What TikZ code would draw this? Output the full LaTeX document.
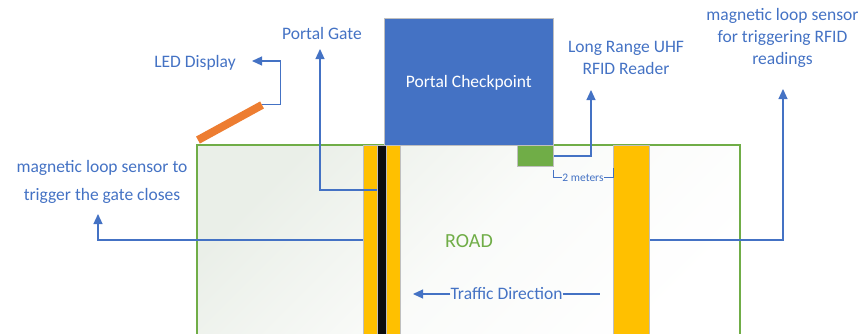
\documentclass[tikz,border=0pt]{standalone}
\usepackage{fontspec}
\setmainfont{Carlito}
\usetikzlibrary{arrows.meta,calc}

\definecolor{accent}{HTML}{4472C4}
\definecolor{roadgreen}{HTML}{70AD47}
\definecolor{roadtint}{HTML}{EAEFE8}
\definecolor{gateyellow}{HTML}{FFC000}
\definecolor{ledorange}{HTML}{ED7D31}
\definecolor{edgegrey}{HTML}{BFBFBF}
\definecolor{armblack}{HTML}{0D0D0D}

\begin{document}
\begin{tikzpicture}[x=1pt,y=-1pt,
  conn/.style={draw=accent, line width=1.2pt},
  arr/.style={conn, -{Triangle[length=10pt,width=9pt]}},
  thinconn/.style={draw=accent, line width=0.9pt},
  lbl/.style={text=accent, font=\fontsize{17.5}{22}\selectfont, align=center, inner sep=0pt},
  stripbox/.style={fill=gateyellow, draw=edgegrey, line width=0.8pt, inner sep=0pt, anchor=north west},
  armbox/.style={fill=armblack, draw=edgegrey, line width=0.8pt, inner sep=0pt, anchor=north west}]

\useasboundingbox (0,0) rectangle (865,333);
\clip (0,0) rectangle (865,333);

% road surface
\shade[draw=roadgreen, line width=1.1pt, top color=roadtint, bottom color=white,
       middle color=roadtint!25!white, shading angle=45]
  (197,145) rectangle (740,350);
\node[text=roadgreen, font=\fontsize{20}{24}\selectfont, inner sep=0pt] (road) at (469,241) {ROAD};

% gate loop strip with the barrier arm, and the reader loop strip
\node[stripbox, minimum width=37pt, minimum height=200pt] (gateloop) at (363,145) {};
\node[armbox, minimum width=9pt, minimum height=200pt] (arm) at (377,145) {};
\node[stripbox, minimum width=36pt, minimum height=200pt] (readloop) at (613,145) {};

% checkpoint building and the reader
\node[fill=accent, draw=edgegrey, line width=0.8pt, anchor=north west, inner sep=0pt,
      minimum width=169pt, minimum height=127pt, text=white,
      font=\fontsize{17.5}{22}\selectfont, text height=12pt, text depth=0pt] (checkpoint) at (384,18) {Portal Checkpoint};
\node[fill=roadgreen, draw=edgegrey, line width=0.8pt, anchor=north west, inner sep=0pt,
      minimum width=36pt, minimum height=21pt] (reader) at (517,145) {};

% LED display
\node[fill=ledorange, inner sep=0pt, minimum width=73pt, minimum height=8pt, rotate=28.7] (led) at (230,122.5) {};

% labels
\node[lbl, anchor=base] (ledtxt) at (195,67) {LED Display};
\node[lbl, anchor=base] (gatetxt) at (322,39) {Portal Gate};
\node[lbl, anchor=north] (readertxt) at (626,41) {Long Range UHF\\RFID Reader};
\node[lbl, anchor=north] (righttxt) at (782.5,8) {magnetic loop sensor\\for triggering RFID\\readings};
\node[lbl, anchor=north, font=\fontsize{17.5}{28}\selectfont] (lefttxt) at (102,160) {magnetic loop sensor to\\trigger the gate closes};
\node[lbl, anchor=base] (traffic) at (506.5,299) {Traffic Direction};
\node[text=accent, font=\fontsize{11.5}{13}\selectfont, inner sep=0pt, anchor=base] (dist) at (583,181) {2 meters};

% arrow end points
\coordinate (ledtip) at (252,61);
\coordinate (gatetip) at (320,49);
\coordinate (readertip) at (591,90);
\coordinate (lefttip) at (98,214);
\coordinate (righttip) at (783,89);
\coordinate (traftip) at (413,294);
\coordinate (trafstart) at (600,294);

% connectors
\draw[arr] (led.east) -- ++(18,0) |- (ledtip);
\draw[arr] ($(arm.north west)+(0,45)$) -| (gatetip);
\draw[arr] (reader.east) -| (readertip);
\draw[arr] ($(gateloop.north west)+(0,95)$) -| (lefttip);
\draw[arr] ($(readloop.north east)+(0,95)$) -| (righttip);
\draw[conn] (traffic.east |- trafstart) -- (trafstart);
\draw[arr] (traffic.west |- traftip) -- (traftip);

% distance bracket between reader and loop
\draw[thinconn] ($(reader.south east)+(0,3)$) |- (dist.west |- 0,177.5);
\draw[thinconn] ($(readloop.north west)+(0,23)$) |- (dist.east |- 0,177.5);
\end{tikzpicture}
\end{document}
